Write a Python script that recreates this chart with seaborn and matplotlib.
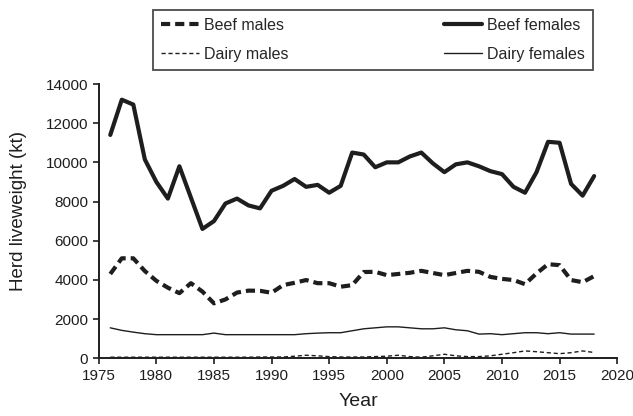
import numpy as np
import pandas as pd
import seaborn as sns
import matplotlib
matplotlib.use('Agg')
from matplotlib import pyplot as plt

years = list(range(1976, 2019))

beef_females = [11400, 13200, 12950, 10150, 9000, 8150, 9800, 8200, 6600, 7000,
                7900, 8150, 7800, 7650, 8550, 8800, 9150, 8750, 8850, 8450,
                8800, 10500, 10400, 9750, 10000, 10000, 10300, 10500, 9950, 9500,
                9900, 10000, 9800, 9550, 9400, 8750, 8450, 9500, 11050, 11000,
                8900, 8300, 9300]
beef_males = [4300, 5100, 5100, 4450, 3950, 3600, 3320, 3830, 3400, 2800,
              3000, 3350, 3450, 3440, 3340, 3730, 3850, 3990, 3830, 3830,
              3650, 3730, 4400, 4410, 4240, 4300, 4360, 4460, 4350, 4240,
              4350, 4460, 4410, 4150, 4050, 3990, 3780, 4330, 4800, 4750,
              3990, 3880, 4190]
dairy_females = [1550, 1420, 1330, 1250, 1200, 1200, 1200, 1200, 1200, 1280,
                 1200, 1200, 1200, 1200, 1200, 1200, 1200, 1250, 1280, 1300,
                 1300, 1400, 1500, 1550, 1600, 1600, 1550, 1500, 1500, 1550,
                 1450, 1400, 1230, 1250, 1200, 1250, 1300, 1300, 1250, 1300,
                 1230, 1230, 1230]
dairy_males = [50, 50, 50, 50, 50, 50, 50, 50, 50, 50,
               50, 50, 50, 60, 60, 60, 100, 150, 120, 80,
               60, 60, 60, 80, 100, 150, 80, 50, 120, 200,
               120, 80, 80, 120, 200, 280, 370, 330, 280, 230,
               280, 370, 290]

series = {
    'Beef males': beef_males,
    'Dairy males': dairy_males,
    'Beef females': beef_females,
    'Dairy females': dairy_females,
}

df = pd.DataFrame([(y, name, v) for name, vals in series.items()
                   for y, v in zip(years, vals)],
                  columns=['Year', 'group', 'kt'])

sns.set_style('ticks')
plt.rcParams['font.family'] = ['Liberation Sans', 'DejaVu Sans']

fig = plt.figure(figsize=(6.33, 4.16), dpi=100)
ax = fig.add_axes([0.156, 0.139, 0.819, 0.659])

col = '#1e1e1e'
styles = {
    'Beef males': dict(lw=3.0, ls=(0, (2.2, 1.2))),
    'Dairy males': dict(lw=1.0, ls=(0, (3, 2))),
    'Beef females': dict(lw=3.0, ls='-'),
    'Dairy females': dict(lw=1.0, ls='-'),
}
for name in series:
    sub = df[df['group'] == name]
    sns.lineplot(data=sub, x='Year', y='kt', ax=ax, color=col, label=name,
                 **styles[name])

ax.set_xlim(1975, 2020)
ax.set_ylim(0, 14000)
ax.set_xticks(range(1975, 2021, 5))
ax.set_yticks(range(0, 14001, 2000))
ax.tick_params(labelsize=11, length=4, width=1.2, color=col, labelcolor=col,
               pad=3.5)
for s in ['top', 'right']:
    ax.spines[s].set_visible(False)
for s in ['left', 'bottom']:
    ax.spines[s].set_linewidth(1.4)
    ax.spines[s].set_color(col)
ax.set_xlabel('Year', fontsize=14, color=col)
ax.set_ylabel('Herd liveweight (kt)', fontsize=13.5, color=col)
ax.xaxis.set_label_coords(0.5, -0.128)
ax.yaxis.set_label_coords(-0.139, 0.536)

leg = ax.legend(ncol=2, mode='expand', loc='upper left',
                bbox_to_anchor=(153 / 633, 347 / 416, 440 / 633, 59 / 416),
                bbox_transform=fig.transFigure, fontsize=11.5, frameon=True,
                fancybox=False, handlelength=2.4, handletextpad=0.3,
                borderaxespad=0, labelspacing=0.85, borderpad=0.5)
leg.get_frame().set_edgecolor(col)
leg.get_frame().set_linewidth(1.3)

fig.savefig('out.png', dpi=100)
